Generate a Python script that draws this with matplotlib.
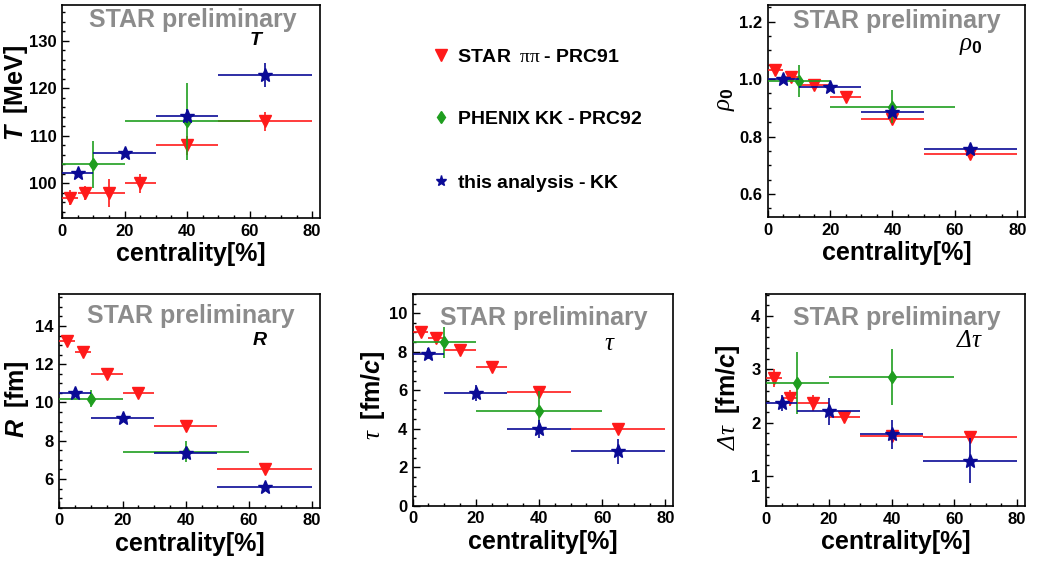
import matplotlib
matplotlib.use('Agg')
import matplotlib.pyplot as plt
from matplotlib.lines import Line2D
from matplotlib.ticker import MultipleLocator

plt.rcParams['font.family'] = ['Liberation Sans', 'DejaVu Sans']
plt.rcParams['mathtext.fontset'] = 'custom'
plt.rcParams['mathtext.rm'] = 'Liberation Sans:bold'
plt.rcParams['mathtext.it'] = 'Liberation Serif:italic'
plt.rcParams['mathtext.sf'] = 'Liberation Serif:italic'
plt.rcParams['mathtext.cal'] = 'Liberation Serif'
plt.rcParams['mathtext.bf'] = 'Liberation Sans:bold'
plt.rcParams['mathtext.bfit'] = 'Liberation Sans:bold:italic'

# centrality bins
cent_star = [2.5, 7.5, 15, 25, 40, 65]
cent_star_err = [2.5, 2.5, 5, 5, 10, 15]
cent_phenix = [10, 40]
cent_phenix_err = [10, 20]
cent_kk = [5, 20, 40, 65]
cent_kk_err = [5, 10, 10, 15]

# T [MeV]
T_star = [97.0, 98.0, 98.0, 100.0, 108.0, 113.0]
T_star_err = [1.5, 1.5, 2.9, 2.0, 2.0, 2.0]
T_phenix = [104.0, 113.0]
T_phenix_err = [5.0, 8.0]
T_kk = [102.2, 106.3, 114.2, 122.8]
T_kk_err = [0.5, 0.5, 1.5, 2.5]

# rho_0
rho_star = [1.03, 1.006, 0.979, 0.939, 0.860, 0.739]
rho_star_err = [0.01, 0.01, 0.01, 0.01, 0.015, 0.01]
rho_phenix = [0.994, 0.904]
rho_phenix_err = [0.055, 0.058]
rho_kk = [1.002, 0.971, 0.885, 0.756]
rho_kk_err = [0.005, 0.005, 0.01, 0.01]

# R [fm]
R_star = [13.22, 12.62, 11.49, 10.51, 8.79, 6.51]
R_star_err = [0.1, 0.1, 0.1, 0.1, 0.1, 0.1]
R_phenix = [10.2, 7.43]
R_phenix_err = [0.45, 0.55]
R_kk = [10.48, 9.21, 7.36, 5.58]
R_kk_err = [0.15, 0.25, 0.3, 0.1]

# tau [fm/c]
tau_star = [9.01, 8.7, 8.11, 7.19, 5.89, 3.99]
tau_star_err = [0.15, 0.15, 0.15, 0.15, 0.15, 0.15]
tau_phenix = [8.49, 4.94]
tau_phenix_err = [0.8, 1.0]
tau_kk = [7.9, 5.86, 3.99, 2.82]
tau_kk_err = [0.3, 0.4, 0.45, 0.65]

# delta tau [fm/c]
dtau_star = [2.84, 2.46, 2.36, 2.11, 1.76, 1.73]
dtau_star_err = [0.17, 0.15, 0.15, 0.08, 0.08, 0.08]
dtau_phenix = [2.74, 2.86]
dtau_phenix_err = [0.58, 0.52]
dtau_kk = [2.36, 2.21, 1.78, 1.29]
dtau_kk_err = [0.15, 0.25, 0.27, 0.42]

legend_labels = [r'$\mathrm{STAR\ \ }\mathcal{\pi\pi}\mathrm{\ ‐\ PRC91}$',
                 r'$\mathrm{PHENIX\ KK\ ‐\ PRC92}$',
                 r'$\mathrm{this\ analysis\ ‐\ KK}$']

red = '#ff1a1a'
green = '#1f9e1f'
blue = '#0a0a96'

W, H = 1038., 561.
fig = plt.figure(figsize=(W / 100, H / 100), dpi=100)

def add_ax(l, r, t, b):
    return fig.add_axes([l / W, 1 - b / H, (r - l) / W, (b - t) / H])

panels = [
    dict(box=(62, 320, 5, 218), data=(T_star, T_star_err, T_phenix, T_phenix_err, T_kk, T_kk_err),
         ylim=(92.7, 137.5), major=10, minor=2,
         ylabel=r'$\mathbfit{T}\ \ \mathrm{[MeV]}$', ylpos=(-0.125, 0.585),
         tag=r'$\mathbfit{T}$', tagpos=(0.725, 0.812), tagsize=14, prel=(0.105, 0.897)),
    dict(box=(767.7, 1025, 5, 217), data=(rho_star, rho_star_err, rho_phenix, rho_phenix_err, rho_kk, rho_kk_err),
         ylim=(0.52, 1.258), major=0.2, minor=0.05,
         ylabel=r'$\mathsf{\rho}_{0}$', ylpos=(-0.119, 0.557),
         tag=r'$\mathsf{\rho}_{0}$', tagpos=(0.745, 0.79), tagsize=18, prel=(0.098, 0.89)),
    dict(box=(59.3, 320, 294, 507.7), data=(R_star, R_star_err, R_phenix, R_phenix_err, R_kk, R_kk_err),
         ylim=(4.5, 15.67), major=2, minor=0.5,
         ylabel=r'$\mathbfit{R}\ \ \mathrm{[fm]}$', ylpos=(-0.11, 0.509),
         tag=r'$\mathbfit{R}$', tagpos=(0.74, 0.761), tagsize=14, prel=(0.106, 0.864)),
    dict(box=(412.7, 673.3, 294, 505.7), data=(tau_star, tau_star_err, tau_phenix, tau_phenix_err, tau_kk, tau_kk_err),
         ylim=(0, 11.0), major=2, minor=0.5,
         ylabel=r'$\mathsf{\tau}\ \ \mathrm{[fm/}\mathbfit{c}\mathrm{]}$', ylpos=(-0.099, 0.523),
         tag=r'$\mathsf{\tau}$', tagpos=(0.735, 0.735), tagsize=18, prel=(0.105, 0.854)),
    dict(box=(766, 1025, 294, 506), data=(dtau_star, dtau_star_err, dtau_phenix, dtau_phenix_err, dtau_kk, dtau_kk_err),
         ylim=(0.44, 4.41), major=1, minor=0.2,
         ylabel=r'$\mathsf{\Delta\tau}\ \ \mathrm{[fm/}\mathbfit{c}\mathrm{]}$', ylpos=(-0.093, 0.51),
         tag=r'$\mathsf{\Delta\tau}$', tagpos=(0.735, 0.75), tagsize=18, prel=(0.104, 0.854)),
]

for p in panels:
    ax = add_ax(*p['box'])
    ys, yse, yp, ype, yk, yke = p['data']
    ax.errorbar(cent_star, ys, xerr=cent_star_err, yerr=yse, fmt='v', color=red,
                ms=9, elinewidth=1.2, capsize=0, zorder=3)
    ax.errorbar(cent_phenix, yp, xerr=cent_phenix_err, yerr=ype, fmt='d', color=green,
                ms=6, elinewidth=1.2, capsize=0, zorder=4)
    ax.errorbar(cent_kk, yk, xerr=cent_kk_err, yerr=yke, fmt='*', color=blue,
                ms=10, elinewidth=1.2, capsize=0, zorder=5)
    ax.set_xlim(0, 82.5)
    ax.set_ylim(*p['ylim'])
    ax.xaxis.set_major_locator(MultipleLocator(20))
    ax.xaxis.set_minor_locator(MultipleLocator(5))
    ax.yaxis.set_major_locator(MultipleLocator(p['major']))
    ax.yaxis.set_minor_locator(MultipleLocator(p['minor']))
    ax.tick_params(which='both', direction='in', top=False, right=False, labelsize=12, width=1.0)
    ax.tick_params(which='major', length=5, pad=4)
    ax.tick_params(which='minor', length=2.5)
    for lab in ax.get_xticklabels() + ax.get_yticklabels():
        lab.set_fontweight('bold')
    for s in ax.spines.values():
        s.set_linewidth(1.2)
    ax.set_xlabel('centrality[%]', fontsize=18, fontweight='bold')
    ax.xaxis.set_label_coords(0.5, -0.115)
    ax.set_ylabel(p['ylabel'], fontsize=18)
    ax.yaxis.set_label_coords(*p['ylpos'])
    ax.text(p['prel'][0], p['prel'][1], 'STAR preliminary', transform=ax.transAxes,
            color='#8c8c8c', fontsize=18, fontweight='bold', va='baseline', ha='left')
    ax.text(p['tagpos'][0], p['tagpos'][1], p['tag'], transform=ax.transAxes,
            fontsize=p['tagsize'], va='baseline', ha='left')

handles = [Line2D([], [], marker='v', ls='none', color=red, ms=8),
           Line2D([], [], marker='d', ls='none', color=green, ms=6),
           Line2D([], [], marker='*', ls='none', color=blue, ms=8)]
fig.legend(handles, legend_labels, loc='upper left', bbox_to_anchor=(434 / W, 1 - 48 / H),
           frameon=False, handlelength=0.7, handletextpad=0.5,
           labelspacing=2.3, borderpad=0, borderaxespad=0, prop={'size': 14})

fig.savefig('out.png', dpi=100)
